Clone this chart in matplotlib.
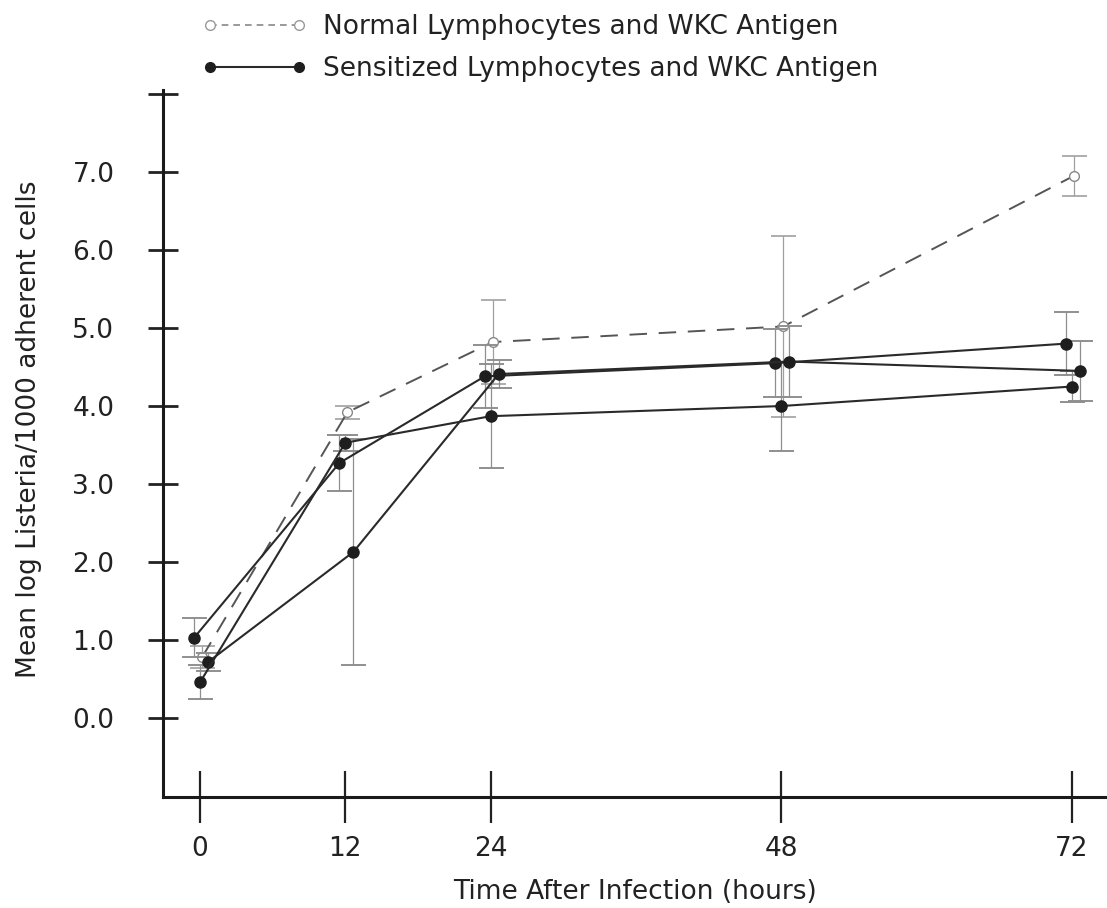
import numpy as np
import matplotlib
matplotlib.use("Agg")
import matplotlib.pyplot as plt
import matplotlib.transforms as mtransforms
from matplotlib.lines import Line2D

hours = [0, 12, 24, 48, 72]

# normal lymphocytes + WKC antigen (open circles, dashed)
normal = [0.78, 3.92, 4.82, 5.02, 6.95]
normal_err = [0.14, 0.08, 0.54, 1.16, 0.26]

# sensitized lymphocytes + WKC antigen (three experiments, filled circles)
sens_a = [1.03, 3.27, 4.38, 4.55, 4.80]
sens_a_err = [0.25, 0.36, 0.40, 0.44, 0.40]
sens_b = [0.72, 2.13, 4.41, 4.57, 4.45]
sens_b_err = [0.12, 1.45, 0.18, 0.45, 0.38]
sens_c = [0.46, 3.53, 3.87, 4.00, 4.25]
sens_c_err = [0.22, 0.10, 0.67, 0.57, 0.20]

yticks = [0, 1, 2, 3, 4, 5, 6, 7, 8]
ytick_labels = ["0.0", "1.0", "2.0", "3.0", "4.0", "5.0", "6.0", "7.0", ""]

plt.rcParams['font.family'] = ['DejaVu Sans']
ink = '#2a2a2a'
txt = '#222222'

fig = plt.figure(figsize=(11.07, 9.08), dpi=100)
ax = fig.add_axes([163/1107, 1 - 797/908, 1 - 163/1107, (797 - 90)/908])

def shifted(dx):
    return mtransforms.offset_copy(ax.transData, fig=fig, x=dx, y=0, units='dots')

ax.errorbar(hours, normal, yerr=normal_err, fmt='o', ls=(0, (9, 6)), color='#555555',
            mfc='white', mec='#888888', ms=7, lw=1.4, ecolor='#a0a0a0', elinewidth=0.9,
            capsize=9, capthick=1.2, transform=shifted(2), zorder=3)

for vals, errs, dx in [(sens_a, sens_a_err, -6), (sens_b, sens_b_err, 8), (sens_c, sens_c_err, 0)]:
    ax.errorbar(hours, vals, yerr=errs, fmt='o-', color=ink, mfc='#1e1e1e', mec='#1e1e1e',
                ms=8, lw=1.5, ecolor='#8f8f8f', elinewidth=0.9, capsize=9, capthick=1.4,
                transform=shifted(dx), zorder=4)

ax.set_xlim(-3.06, 74.9)
ax.set_ylim(-1.01, 8.05)
ax.set_xticks(hours)
ax.set_xticklabels([str(h) for h in hours])
ax.set_yticks(yticks)
ax.set_yticklabels(ytick_labels)

for s in ['top', 'right']:
    ax.spines[s].set_visible(False)
for s in ['left', 'bottom']:
    ax.spines[s].set_linewidth(2.2)
    ax.spines[s].set_color('#1a1a1a')

ax.tick_params(axis='x', direction='inout', length=38, width=1.6, pad=9,
               labelsize=19, colors=txt)
ax.tick_params(axis='y', direction='inout', length=22, width=2.0, pad=24,
               labelsize=19, colors=txt)

ax.set_xlabel("Time After Infection (hours)", fontsize=19, labelpad=12, color=txt)
ax.set_ylabel("Mean log Listeria/1000 adherent cells", fontsize=19, color=txt)
ax.yaxis.set_label_coords(-0.128, 0.52)

handles = [
    Line2D([], [], ls=(0, (4, 3)), color='#888888', marker='o', mfc='white', mec='#999999', ms=7, lw=1.2),
    Line2D([], [], ls='-', color=ink, marker='o', mfc='#1e1e1e', mec='#1e1e1e', ms=7, lw=1.5),
]
fig.legend(handles, ["Normal Lymphocytes and WKC Antigen",
                     "Sensitized Lymphocytes and WKC Antigen"],
           loc='upper left', bbox_to_anchor=(178/1107, 1.011), frameon=False,
           fontsize=19, handlelength=4.0, numpoints=2, labelspacing=0.62,
           handletextpad=0.6, labelcolor=txt)

fig.savefig("out.png", dpi=100, facecolor='white')
